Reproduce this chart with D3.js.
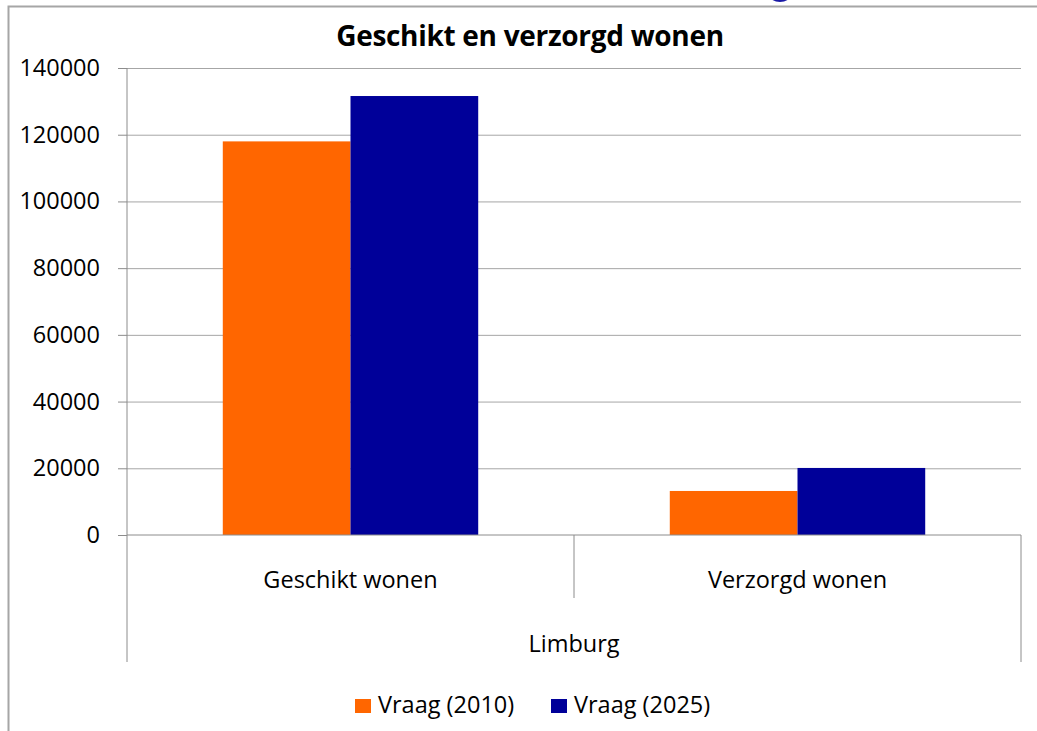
<!DOCTYPE html>
<html>
<head>
<meta charset="utf-8">
<script src="https://cdn.jsdelivr.net/npm/d3@7"></script>
<style>
  html, body { margin: 0; padding: 0; background: #fff; overflow: hidden; }
  svg { display: block; }
  svg text { font-family: "Open Sans", Lato, sans-serif; fill: #000; }
  .axis path, .axis line { stroke: #8c8c8c; }
  .grid line { stroke: #a6a6a6; }
  .grid path { display: none; }
</style>
</head>
<body>
<svg id="chart"></svg>
<script>
// Data
const categories = ["Geschikt wonen", "Verzorgd wonen"];
const groupLabel = "Limburg";
const seriesNames = ["Vraag (2010)", "Vraag (2025)"];
const vraag2010 = [118000, 13200];
const vraag2025 = [131600, 20100];
const yTicks = [0, 20000, 40000, 60000, 80000, 100000, 120000, 140000];
const colors = ["#ff6600", "#000099"];

const width = 1037;
const height = 731;
const margin = { top: 68, right: 16, bottom: 196, left: 127 };
const innerWidth = width - margin.left - margin.right;
const innerHeight = height - margin.top - margin.bottom;
const fontSize = "23.5px";

const rows = categories.map((c, i) => ({ category: c, values: [vraag2010[i], vraag2025[i]] }));

const svg = d3.select("#chart")
    .attr("width", width)
    .attr("height", height);

// outer frame (only left and top visible in the picture)
svg.append("path")
    .attr("d", `M8.5,${height} V6.5 H${width}`)
    .attr("fill", "none")
    .attr("stroke", "#a6a6a6")
    .attr("stroke-width", 2);

// little piece of a logo peeking in at the top
svg.append("ellipse")
    .attr("cx", 780).attr("cy", -9)
    .attr("rx", 13).attr("ry", 11)
    .attr("fill", "#1a1aa6");

svg.append("text")
    .attr("x", 530)
    .attr("y", 46)
    .attr("text-anchor", "middle")
    .style("font-size", "28px")
    .style("font-weight", "bold")
    .style("letter-spacing", "-0.3px")
    .text("Geschikt en verzorgd wonen");

const chart = svg.append("g")
    .attr("transform", `translate(${margin.left}, ${margin.top})`);

// scales
const x0 = d3.scaleBand()
    .domain(categories)
    .range([0, innerWidth]);

const x1 = d3.scaleBand()
    .domain(seriesNames)
    .range([0, x0.bandwidth()])
    .paddingOuter(0.75);

const y = d3.scaleLinear()
    .domain([0, 140000])
    .range([innerHeight, 0]);

// gridlines (no labels)
chart.append("g")
    .attr("class", "grid")
    .call(d3.axisLeft(y).tickValues(yTicks.slice(1)).tickSize(-innerWidth))
    .call(g => g.selectAll("text").remove());

// y axis
chart.append("g")
    .attr("class", "axis")
    .call(d3.axisLeft(y).tickValues(yTicks).tickSize(9).tickPadding(18).tickFormat(d3.format("d")))
    .call(g => g.select(".domain").attr("d", `M0,0V${innerHeight}`))
    .selectAll("text")
    .attr("text-anchor", "end")
    .style("font-size", fontSize)
    .attr("fill", "#000");

// bars
chart.selectAll(".cat")
    .data(rows)
    .enter()
    .append("g")
    .attr("class", "cat")
    .attr("transform", d => `translate(${x0(d.category)},0)`)
    .selectAll("rect")
    .data(d => d.values.map((v, i) => ({ key: seriesNames[i], value: v, i })))
    .enter()
    .append("rect")
    .attr("x", d => x1(d.key))
    .attr("y", d => y(d.value))
    .attr("width", x1.bandwidth())
    .attr("height", d => innerHeight - y(d.value))
    .attr("fill", d => colors[d.i]);

// category axis (two levels, Excel style)
const xAxis = chart.append("g")
    .attr("class", "axis")
    .attr("transform", `translate(0, ${innerHeight})`);

xAxis.append("line")
    .attr("x1", 0).attr("x2", innerWidth)
    .attr("stroke", "#8c8c8c");

const level1 = 63;
const level2 = 127;
const bounds = categories.map(c => x0(c)).concat([x0.range()[1]]);
xAxis.selectAll(".sep")
    .data(bounds)
    .enter()
    .append("line")
    .attr("class", "sep")
    .attr("x1", d => d).attr("x2", d => d)
    .attr("y1", 0)
    .attr("y2", (d, i) => (i === 0 || i === bounds.length - 1) ? level2 : level1)
    .attr("stroke", "#8c8c8c");

xAxis.selectAll(".catlabel")
    .data(categories)
    .enter()
    .append("text")
    .attr("class", "catlabel")
    .attr("x", d => x0(d) + x0.bandwidth() / 2)
    .attr("y", 53)
    .attr("text-anchor", "middle")
    .style("font-size", fontSize)
    .text(d => d);

xAxis.append("text")
    .attr("x", innerWidth / 2)
    .attr("y", 117)
    .attr("text-anchor", "middle")
    .style("font-size", fontSize)
    .text(groupLabel);

// legend
const legendX = [355, 551];
const legend = svg.append("g")
    .attr("transform", "translate(0, 699)");

const item = legend.selectAll(".item")
    .data(seriesNames)
    .enter()
    .append("g")
    .attr("class", "item")
    .attr("transform", (d, i) => `translate(${legendX[i]},0)`);

item.append("rect")
    .attr("width", 16)
    .attr("height", 14)
    .attr("fill", (d, i) => colors[i]);

item.append("text")
    .attr("x", 23)
    .attr("y", 14)
    .style("font-size", fontSize)
    .text(d => d);
</script>
</body>
</html>
